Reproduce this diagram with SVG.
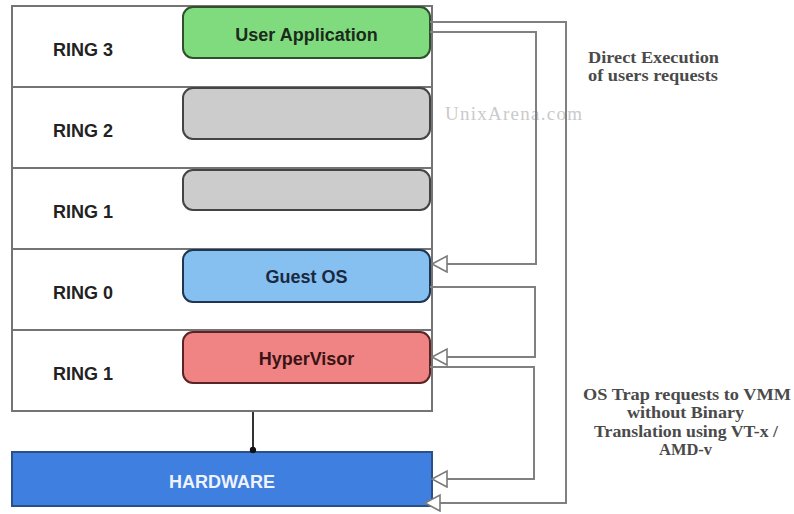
<svg xmlns="http://www.w3.org/2000/svg" width="794" height="514" viewBox="0 0 794 514">
  <style>
    .ring { fill: #ffffff; stroke: #747474; stroke-width: 2; }
    .ring-label { font-family: "Liberation Sans", Arial, sans-serif; font-weight: bold; font-size: 18px; fill: #222222; }
    .box-label { font-family: "Liberation Sans", Arial, sans-serif; font-weight: bold; font-size: 18px; text-anchor: middle; }
    .note { font-family: "Liberation Serif", "Times New Roman", serif; font-weight: bold; font-size: 17px; fill: #4a4a4a; }
    .wire { fill: none; stroke: #808080; stroke-width: 2; }
    .mark { font-family: "Liberation Serif", "Times New Roman", serif; font-size: 19px; fill: #cacaca; }
  </style>
  <defs>
    <marker id="hollow" markerUnits="userSpaceOnUse" markerWidth="18" markerHeight="20" refX="16" refY="9" orient="auto">
      <path d="M1,1 L16,9 L1,17 Z" fill="#ffffff" stroke="#7a7a7a" stroke-width="1.6"/>
    </marker>
    <marker id="dot" markerUnits="userSpaceOnUse" markerWidth="10" markerHeight="10" refX="5" refY="5" orient="auto">
      <circle cx="5" cy="5" r="3.2" fill="#111111"/>
    </marker>
  </defs>

  <rect width="794" height="514" fill="#ffffff"/>

  <!-- privilege rings -->
  <g id="ring3">
    <rect class="ring" x="12" y="6" width="420" height="81"/>
    <text class="ring-label" x="53" y="56">RING 3</text>
  </g>
  <g id="ring2">
    <rect class="ring" x="12" y="87" width="420" height="81"/>
    <text class="ring-label" x="53" y="137">RING 2</text>
  </g>
  <g id="ring1-upper">
    <rect class="ring" x="12" y="168" width="420" height="81"/>
    <text class="ring-label" x="53" y="218">RING 1</text>
  </g>
  <g id="ring0">
    <rect class="ring" x="12" y="249" width="420" height="81"/>
    <text class="ring-label" x="53" y="299">RING 0</text>
  </g>
  <g id="ring1-lower">
    <rect class="ring" x="12" y="330" width="420" height="81"/>
    <text class="ring-label" x="53" y="380">RING 1</text>
  </g>

  <!-- watermark -->
  <text class="mark" x="445" y="120" textLength="137" lengthAdjust="spacing">UnixArena.com</text>

  <!-- components -->
  <g id="user-application">
    <rect x="183" y="7" width="247" height="51" rx="10" fill="#80db7e" stroke="#2f4f2f" stroke-width="2"/>
    <text class="box-label" x="306.5" y="41" fill="#1c2a1c">User Application</text>
  </g>
  <g id="ring2-slot">
    <rect x="183" y="88" width="247" height="51" rx="10" fill="#cccccc" stroke="#444444" stroke-width="2"/>
  </g>
  <g id="ring1-slot">
    <rect x="183" y="170" width="247" height="40" rx="10" fill="#cccccc" stroke="#444444" stroke-width="2"/>
  </g>
  <g id="guest-os">
    <rect x="183" y="250" width="247" height="52" rx="10" fill="#85c0f0" stroke="#1f3550" stroke-width="2"/>
    <text class="box-label" x="306.5" y="283" fill="#1a2840">Guest OS</text>
  </g>
  <g id="hypervisor">
    <rect x="183" y="332" width="247" height="51" rx="10" fill="#f08484" stroke="#5a2424" stroke-width="2"/>
    <text class="box-label" x="306.5" y="365" fill="#3a1414">HyperVisor</text>
  </g>
  <g id="hardware">
    <rect x="12" y="452" width="420" height="54" fill="#3f7fe0" stroke="#2b4f88" stroke-width="2"/>
    <text class="box-label" x="222" y="488" fill="#eef3ff">HARDWARE</text>
  </g>

  <!-- annotations -->
  <g id="note-direct">
    <text class="note" x="588" y="63" textLength="131" lengthAdjust="spacingAndGlyphs">Direct Execution</text>
    <text class="note" x="588" y="81" textLength="130" lengthAdjust="spacingAndGlyphs">of users requests</text>
  </g>
  <g id="note-trap">
    <text class="note" x="583" y="400" textLength="208" lengthAdjust="spacingAndGlyphs">OS Trap requests to VMM</text>
    <text class="note" x="627" y="418" textLength="117" lengthAdjust="spacingAndGlyphs">without Binary</text>
    <text class="note" x="594" y="437" textLength="184" lengthAdjust="spacingAndGlyphs">Translation using VT-x /</text>
    <text class="note" x="659" y="455" textLength="53" lengthAdjust="spacingAndGlyphs">AMD-v</text>
  </g>

  <!-- connectors -->
  <g id="connectors">
    <path class="wire" d="M430,22 H566 V503 H425" marker-end="url(#hollow)"/>
    <path class="wire" d="M430,32 H536 V264 H432" marker-end="url(#hollow)"/>
    <path class="wire" d="M430,287 H535 V357 H432" marker-end="url(#hollow)"/>
    <path class="wire" d="M430,367 H534 V479 H432" marker-end="url(#hollow)"/>
    <path d="M253,412 V450" fill="none" stroke="#333333" stroke-width="2" marker-end="url(#dot)"/>
  </g>
</svg>
